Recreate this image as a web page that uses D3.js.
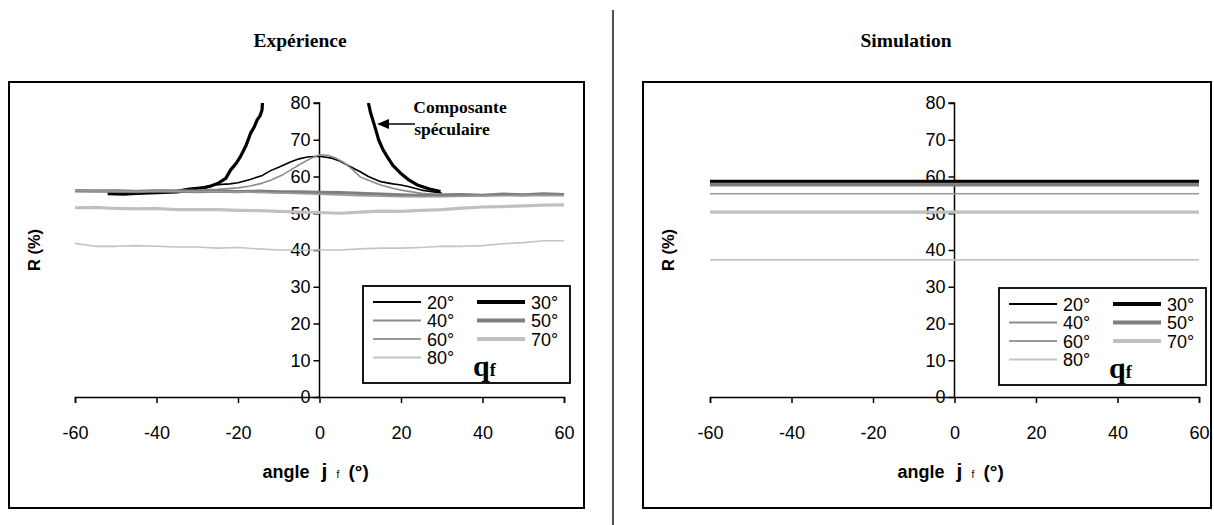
<!DOCTYPE html>
<html><head><meta charset="utf-8">
<script src="https://cdn.jsdelivr.net/npm/d3@7"></script>
<style>
body{margin:0;background:#fff;}
svg{display:block;}
</style></head>
<body>
<svg id="c" width="1214" height="525"></svg>
<script>
// ---------- DATA ----------
const seriesNames = ["20°","30°","40°","50°","60°","70°","80°"];
const xTicks = [-60,-40,-20,0,20,40,60];
const yTicks = [0,10,20,30,40,50,60,70,80];

// Experimental curves (angle phi_f in degrees, R in %)
const exp20_x = [-50,-40,-35,-32,-28,-25,-22,-20,-17,-14,-12,-10,-7,-5,-3,0,3,5,7,10,12,15,18,20,22,25,28,30];
const exp20_y = [56,56,56.2,56.8,57.2,57.8,58,58.3,59.2,60.3,61.6,62.5,64,64.8,65.3,65.5,65,64.2,63,61.3,60,58.6,58,57.7,57.2,56.3,55.8,55.5];
const exp30_x = [-52,-48,-45,-40,-35,-30,-27,-25,-23,-21.8,-20.5,-19.4,-18,-16.9,-16,-15.3,-14.6,-14.1,-14,12,12.5,13.3,14,14.5,15.5,16.6,18,19.9,22,24,27,29.7];
const exp30_y = [55.3,55.2,55.4,55.6,55.8,56.5,57.3,58.1,59.5,61.8,63.5,65.4,68.5,71.8,73.5,75.4,76.5,78.1,80,80,77.5,74.6,72,70,67.5,65.4,63,60.9,59,57.7,56.6,55.9];
const exp40_x = [-60,-50,-40,-30,-25,-20,-17,-14,-12,-9,-7,-5,-2,0,2,4,6,8,10,12,15,18,20,25,30,40,50,60];
const exp40_y = [56.3,56.2,56.2,56.3,56.5,56.9,57.4,58.2,59,60.5,61.8,63.2,65,65.9,65.8,65,63.8,62,59.9,59,57.7,56.8,56.3,55.4,55,55,55,55];
const exp50_x = [-60,-55,-50,-45,-40,-35,-30,-25,-20,-15,-10,-5,0,5,10,15,20,25,30,35,40,45,50,55,60];
const exp50_y = [56.1,56,56.1,55.9,56.1,56,55.9,56,55.9,56,55.8,55.8,55.7,55.6,55.4,55.2,55,54.8,55,55.1,54.9,55.2,55,55.3,55.1];
const exp60_x = [-60,-50,-40,-30,-20,-10,0,10,20,30,40,50,60];
const exp60_y = [56.2,56,56,55.9,55.8,55.5,55.2,54.8,54.5,54.5,54.7,54.8,54.8];
const exp70_x = [-60,-55,-50,-45,-40,-35,-30,-25,-20,-15,-10,-5,0,5,10,15,20,25,30,35,40,45,50,55,60];
const exp70_y = [51.5,51.6,51.3,51.2,51.3,51,51,51,50.8,50.7,50.5,50.3,50.2,50,50.3,50.6,50.5,50.8,51,51.4,51.7,51.8,52,52.2,52.3];
const exp80_x = [-60,-55,-50,-45,-40,-35,-30,-25,-20,-15,-10,-5,0,5,10,15,20,25,30,35,40,45,50,55,60];
const exp80_y = [41.8,41,41,41.2,41,40.8,40.8,40.5,40.7,40.3,40,40,40,40,40.3,40.5,40.5,40.7,41,41,41.2,41.7,42,42.5,42.5];

// Simulation (constant over angle)
const simAngles = [-60,60];
const simValues = [58.9,58.6,58.1,57.7,55.3,50.3,37.3];

// ---------- STYLES ----------
const styles = [
  {c:"#000000", w:1.6},
  {c:"#000000", w:3.2},
  {c:"#8c8c8c", w:1.6},
  {c:"#7f7f7f", w:3.2},
  {c:"#9a9a9a", w:1.6},
  {c:"#c0c0c0", w:3.2},
  {c:"#c4c4c4", w:1.6}
];
const SANS = "Liberation Sans, Arial, sans-serif";
const SERIF = "Liberation Serif, Times New Roman, serif";

const svg = d3.select("#c");

svg.append("line").attr("x1",613).attr("x2",613).attr("y1",10).attr("y2",525)
  .attr("stroke","#222").attr("stroke-width",1.6);

function panel(o){
  const g = svg.append("g");
  g.append("rect").attr("x",o.fx).attr("y",82).attr("width",o.fw).attr("height",426)
    .attr("fill","none").attr("stroke","#000").attr("stroke-width",2);
  g.append("text").attr("x",o.tx).attr("y",47).attr("text-anchor","middle")
    .attr("font-family",SERIF).attr("font-weight","bold")
    .attr("font-size",19.5).text(o.title);

  const x = d3.scaleLinear().domain([-60,60]).range([o.x0,o.x0+489]);
  const y = d3.scaleLinear().domain([0,80]).range([397,103]);

  const xa = g.append("g").attr("transform","translate(0,"+y(0)+")")
    .call(d3.axisBottom(x).tickValues(xTicks).tickSize(6).tickPadding(23).tickFormat(d=>String(d)));
  const ya = g.append("g").attr("transform","translate("+x(0)+",0)")
    .call(d3.axisLeft(y).tickValues(yTicks).tickSize(6).tickPadding(3).tickFormat(d=>String(d)));
  [xa,ya].forEach(a=>{
    a.select(".domain").attr("stroke","#000").attr("stroke-width",1.5);
    a.selectAll(".tick line").attr("stroke","#000").attr("stroke-width",1.5);
    a.selectAll("text").attr("font-family",SANS)
      .attr("font-size",18).attr("fill","#000");
  });
  ya.select(".domain").attr("d","M-6,"+y(80)+"H0V"+y(0));

  g.append("text").attr("transform","translate("+(o.fx+31)+",250) rotate(-90)")
    .attr("text-anchor","middle").attr("font-family",SANS)
    .attr("font-weight","bold").attr("font-size",16.5).text("R (%)");
  const t = g.append("text").attr("y",478)
    .attr("font-family",SANS).attr("font-weight","bold").attr("font-size",18);
  t.append("tspan").attr("x",x(0)-57).text("angle");
  t.append("tspan").attr("x",x(0)+2).attr("font-size",21).text("j");
  t.append("tspan").attr("x",x(0)+17).attr("font-size",10).attr("font-weight","normal").text("f");
  t.append("tspan").attr("x",x(0)+29).attr("font-size",19).text("(°)");

  const line = d3.line().x(d=>x(d[0])).y(d=>y(d[1]));
  o.series.forEach((s,i)=>{
    g.append("path").datum(s).attr("d",line).attr("fill","none")
      .attr("stroke",styles[i].c).attr("stroke-width",styles[i].w).attr("stroke-linejoin","round");
  });

  const L = g.append("g").attr("transform","translate("+o.lx+","+o.ly+")");
  L.append("rect").attr("x",0).attr("y",0).attr("width",207).attr("height",97)
    .attr("fill","#fff").attr("stroke","#000").attr("stroke-width",1.8);
  const pos = [[0,0],[1,0],[0,1],[1,1],[0,2],[1,2],[0,3]];
  seriesNames.forEach((n,i)=>{
    const cx = pos[i][0]*104, cy = 16 + pos[i][1]*18.5;
    L.append("line").attr("x1",10+cx).attr("x2",58+cx).attr("y1",cy).attr("y2",cy)
      .attr("stroke",styles[i].c).attr("stroke-width",styles[i].w+0.6);
    L.append("text").attr("x",64+cx).attr("y",cy+6.5).attr("font-family",SANS)
      .attr("font-size",18).text(n);
  });
  const q = L.append("text").attr("x",110).attr("y",90).attr("font-family",SERIF)
    .attr("font-weight","bold");
  q.append("tspan").attr("font-size",30).text("q");
  q.append("tspan").attr("font-size",18).text("f");
  return {g,x,y};
}

const zip = (a,b)=>a.map((v,i)=>[v,b[i]]);
const expSeries = [zip(exp20_x,exp20_y),zip(exp30_x.slice(0,19),exp30_y.slice(0,19)),zip(exp40_x,exp40_y),
  zip(exp50_x,exp50_y),zip(exp60_x,exp60_y),zip(exp70_x,exp70_y),zip(exp80_x,exp80_y)];
const left = panel({fx:9,fw:575,tx:300,title:"Expérience",x0:75,lx:363,ly:286,series:expSeries});
const lineL = d3.line().x(d=>left.x(d[0])).y(d=>left.y(d[1]));
left.g.insert("path","g").datum(zip(exp30_x.slice(19),exp30_y.slice(19))).attr("d",lineL).attr("fill","none")
  .attr("stroke",styles[1].c).attr("stroke-width",styles[1].w).attr("stroke-linejoin","round");

const ann = left.g.append("g").attr("font-family",SERIF)
  .attr("font-weight","bold").attr("font-size",17.5).attr("text-anchor","middle");
ann.append("text").attr("x",460).attr("y",113).text("Composante");
ann.append("text").attr("x",452).attr("y",135).text("spéculaire");
left.g.append("line").attr("x1",415).attr("x2",386).attr("y1",124).attr("y2",124).attr("stroke","#000").attr("stroke-width",1.5);
left.g.append("path").attr("d","M377,124 L389,119 L389,129 Z").attr("fill","#000");

const simSeries = simValues.map(v=>simAngles.map(a=>[a,v]));
panel({fx:643,fw:568,tx:906,title:"Simulation",x0:710,lx:999,ly:288,series:simSeries});
</script>
</body></html>
